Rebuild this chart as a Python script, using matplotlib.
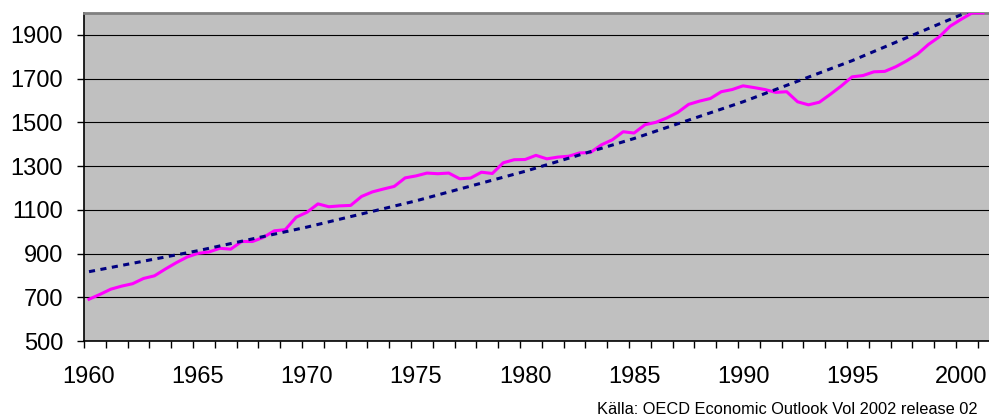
import numpy as np
import matplotlib
matplotlib.use("Agg")
import matplotlib.pyplot as plt

plt.rcParams['font.family'] = ['Liberation Sans', 'DejaVu Sans']

# --- Data (half-yearly readings, 1960 - 2001) ---
periods = np.arange(1960, 2001.01, 0.5)
series_values = [
    691, 713, 737, 751, 762, 786, 798, 829, 858, 884,
    901, 907, 924, 920, 955, 955, 974, 1004, 1009, 1066,
    1089, 1127, 1114, 1118, 1120, 1161, 1182, 1195, 1207, 1246,
    1255, 1268, 1265, 1268, 1242, 1245, 1272, 1266, 1315, 1329,
    1330, 1349, 1333, 1341, 1345, 1360, 1362, 1397, 1420, 1457,
    1451, 1489, 1500, 1520, 1545, 1582, 1597, 1609, 1640, 1650,
    1667, 1659, 1650, 1637, 1640, 1594, 1580, 1592, 1628, 1666,
    1708, 1714, 1731, 1733, 1754, 1781, 1812, 1856, 1891, 1940,
    1971, 2000, 2000,
]

# trend line (exponential), read every 5 years
trend_years = [1960, 1965, 1970, 1975, 1980, 1985, 1990, 1995, 2000, 2001]
trend_values = [817, 913, 1021, 1141, 1276, 1426, 1594, 1782, 1992, 2037]

year_labels = [1960, 1965, 1970, 1975, 1980, 1985, 1990, 1995, 2000]
y_ticks = [500, 700, 900, 1100, 1300, 1500, 1700, 1900]
source_text = "Källa: OECD Economic Outlook Vol 2002 release 02"

# --- Plot ---
W, H = 989, 419
fig = plt.figure(figsize=(W / 100, H / 100), dpi=100)
ax = fig.add_axes([84 / W, 1 - 341 / H, (W - 84) / W, (341 - 13) / H])
ax.set_facecolor('#C0C0C0')

ax.plot(periods, series_values, color='#FF00FF', lw=2.2, zorder=3)
ax.plot(trend_years, trend_values, color='#000080', lw=2.2,
        dashes=(2.0, 1.8), dash_capstyle='butt', zorder=4)

ax.set_xlim(1959.77, 2001.28)
ax.set_ylim(500, 2000)

# y axis
ax.set_yticks(y_ticks)
ax.tick_params(axis='y', direction='out', length=5, width=1, pad=10,
               labelsize=17, color='black')
ax.yaxis.grid(True, color='black', lw=0.8)
ax.set_axisbelow(True)

# x axis: labels at years, small marks at each year boundary
ax.set_xticks(year_labels)
ax.set_xticklabels([str(y) for y in year_labels])
ax.set_xticks(np.arange(1960, 2002) - 0.23, minor=True)
ax.tick_params(axis='x', which='major', length=0, pad=18, labelsize=17)
ax.tick_params(axis='x', which='minor', direction='out', length=5, width=1,
               color='black')

for side in ['left', 'bottom']:
    ax.spines[side].set_color('black')
    ax.spines[side].set_linewidth(1.2)
ax.spines['top'].set_color('#808080')
ax.spines['top'].set_linewidth(2)
ax.spines['right'].set_visible(False)

fig.text(978 / W, 1 - 414 / H, source_text, ha='right', va='baseline',
         fontsize=11.8)

plt.savefig("out.png", dpi=100)
